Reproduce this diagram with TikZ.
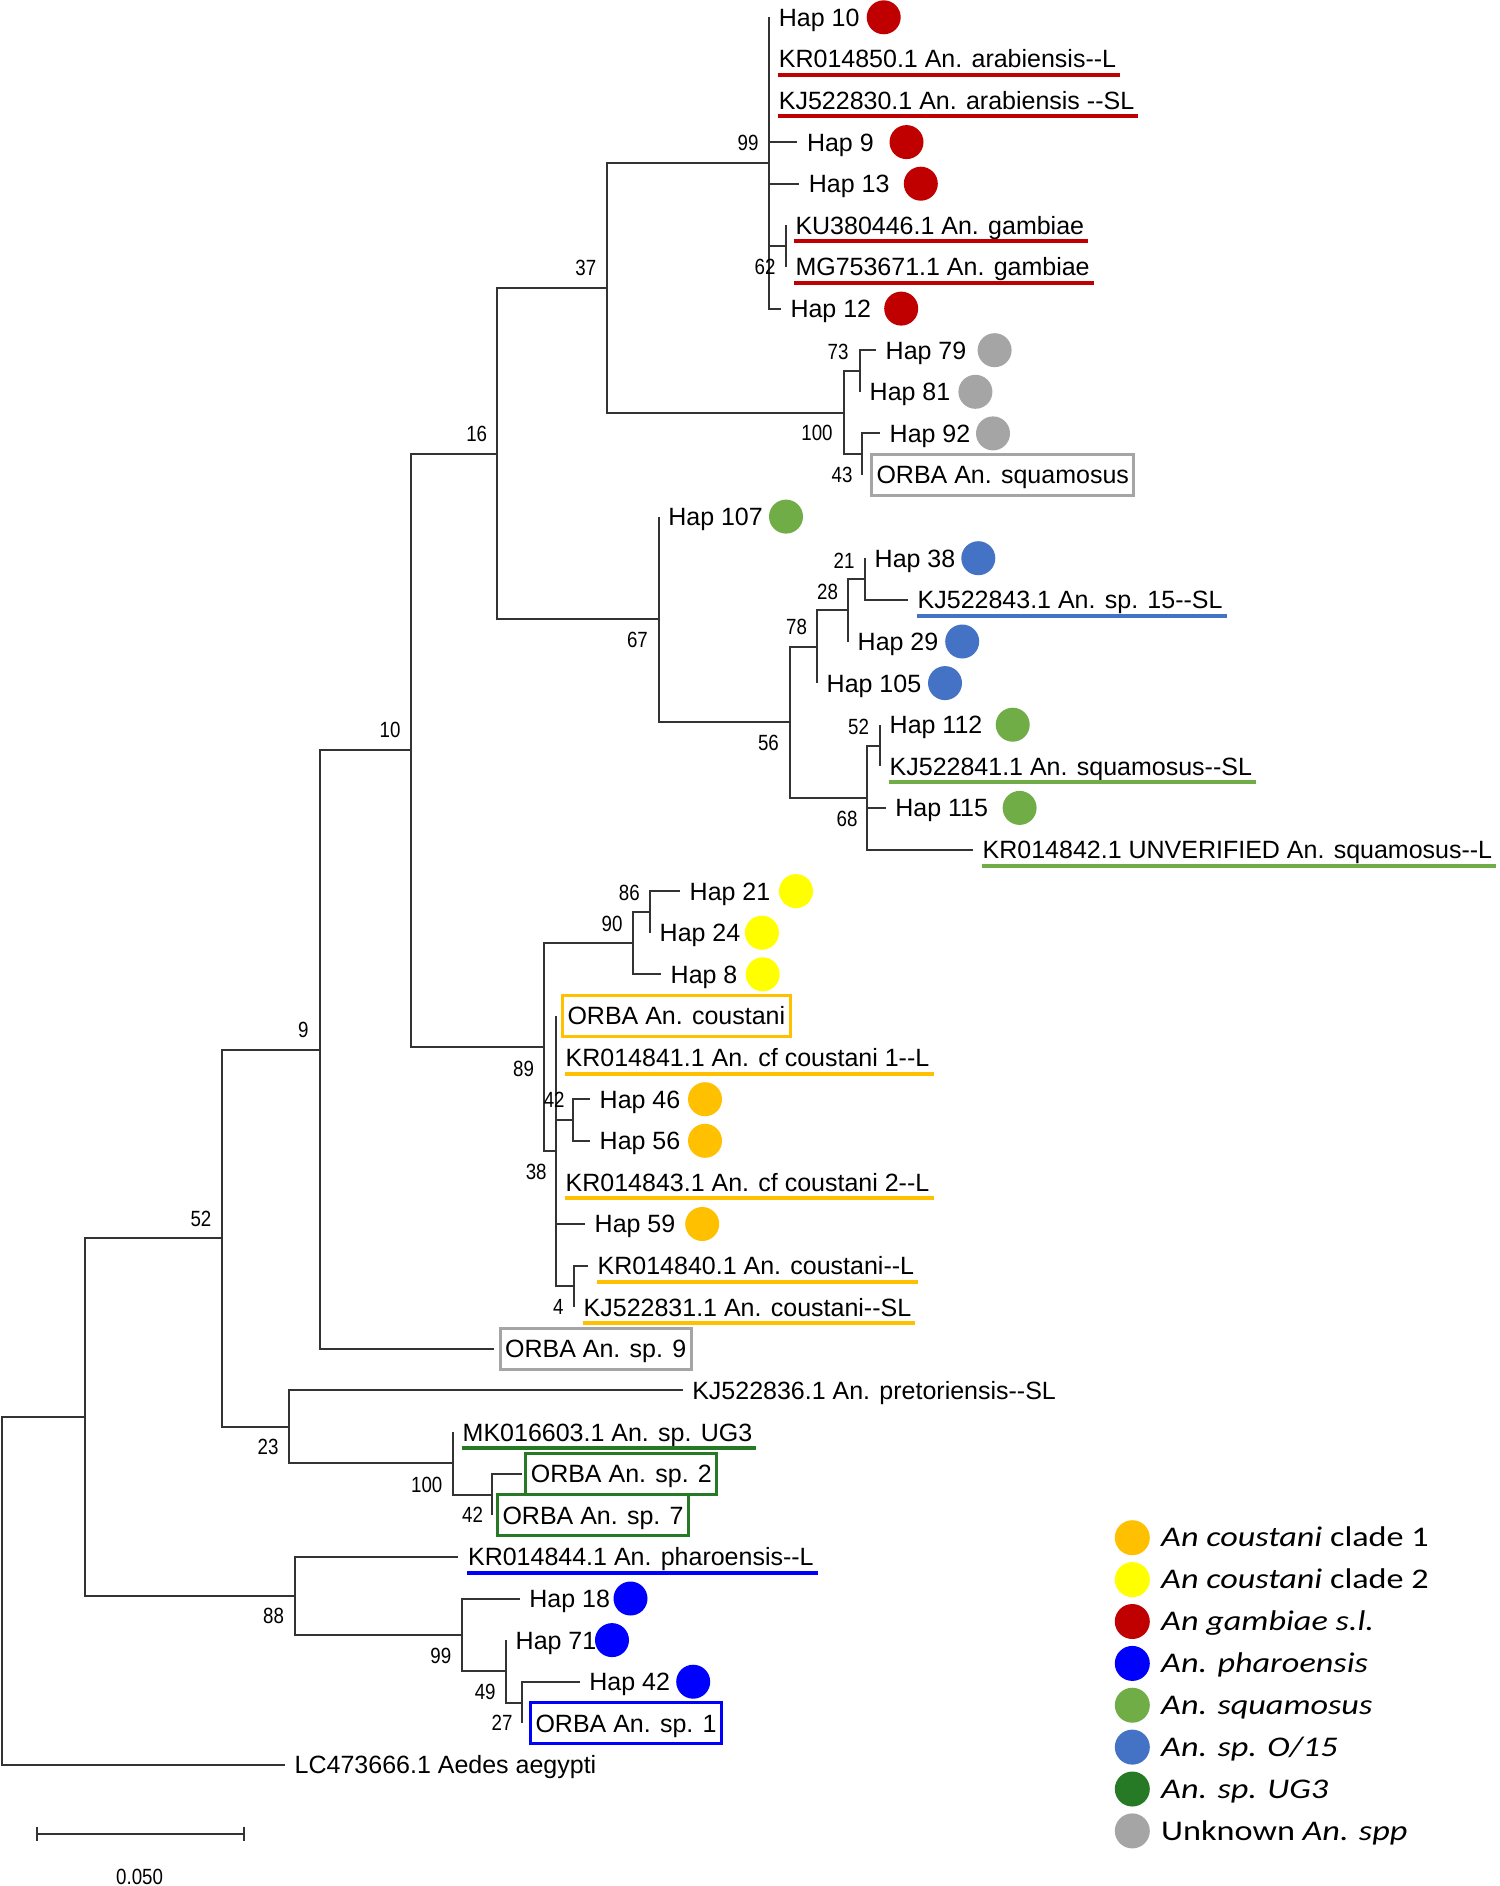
\documentclass[tikz,border=0pt]{standalone}
\usepackage{fontspec}
\setmainfont{Liberation Sans}
\newfontfamily\lblfamily[FakeStretch=0.85]{Liberation Sans}
\newfontfamily\legfamily[FakeStretch=1.2]{Carlito}
\usetikzlibrary{calc}
\definecolor{cred}{HTML}{C00000}
\definecolor{cgray}{HTML}{A5A5A5}
\definecolor{cgreen}{HTML}{70AD47}
\definecolor{cbluetwo}{HTML}{4472C4}
\definecolor{cblue}{HTML}{0000FF}
\definecolor{corange}{HTML}{FFC000}
\definecolor{cyellow}{HTML}{FFFF00}
\definecolor{cdkgreen}{HTML}{267A26}
\newcommand\myleaffont{\fontsize{25pt}{30pt}\selectfont}
\newcommand\mybsfont{\lblfamily\fontsize{22pt}{26pt}\selectfont}
\newcommand\mylegfont{\legfamily\fontsize{28.5pt}{34pt}\selectfont}
\newcommand\mydbh{-{}-}
\begin{document}
\begin{tikzpicture}[x=1pt,y=-1pt,
  br/.style={line width=2pt, draw=black!80},
  leaf/.style={anchor=west, inner sep=0pt, font=\myleaffont, text height=17.9pt, text depth=0pt},
  boxed/.style={anchor=west, font=\myleaffont, inner xsep=5pt, inner ysep=0pt, text height=17.9pt, text depth=0pt, minimum height=41pt, line width=3pt, draw=#1},
  bs/.style={inner sep=0pt, font=\mybsfont, text height=15.8pt, text depth=0pt},
  dot/.style={circle, inner sep=0pt, minimum size=34pt, fill=#1},
  ul/.style={line width=4pt, draw=#1},
  legdot/.style={circle, inner sep=0pt, minimum size=35pt, fill=#1},
  legtext/.style={anchor=west, inner sep=0pt, font=\mylegfont, text height=18.4pt, text depth=0pt}
]
\fill[white] (0,0) rectangle (1499,1886);
\path[use as bounding box] (0,0) rectangle (1499,1886);

% internal nodes
\coordinate (R0) at (2.4,1591);
\coordinate (A) at (85,1417.1);
\coordinate (B) at (221.7,1238.3);
\coordinate (C) at (294.5,1595.9);
\coordinate (D) at (319.5,1049.6);
\coordinate (E) at (289,1426.9);
\coordinate (F) at (410.7,750.4);
\coordinate (G) at (497.3,453.5);
\coordinate (H) at (544,1047.2);
\coordinate (I) at (607,287.8);
\coordinate (J) at (658.6,619.3);
\coordinate (K) at (769.2,163);
\coordinate (L) at (844,412.6);
\coordinate (M) at (785.8,246.2);
\coordinate (N) at (860,371);
\coordinate (O) at (862,454.2);
\coordinate (P) at (789.5,722);
\coordinate (Q) at (817,646.6);
\coordinate (R) at (867,798);
\coordinate (S) at (848,610);
\coordinate (T) at (865,579);
\coordinate (U) at (880,745.5);
\coordinate (W) at (633,943.1);
\coordinate (X) at (556,1151.2);
\coordinate (Y) at (650,911.9);
\coordinate (Z) at (574,1286.4);
\coordinate (AA) at (573,1120);
\coordinate (AB) at (453,1463.3);
\coordinate (AC) at (492,1494.5);
\coordinate (AD) at (462,1634.9);
\coordinate (AE) at (506,1671.3);
\coordinate (AF) at (522,1702.5);

% leaf tips
\coordinate (l0) at (769.2,17.3);
\coordinate (l1) at (769.2,58.9);
\coordinate (l2) at (769.2,100.5);
\coordinate (l3) at (797.3,142.1);
\coordinate (l4) at (799.2,183.7);
\coordinate (l5) at (785.8,225.4);
\coordinate (l6) at (785.8,267.0);
\coordinate (l7) at (780.8,308.6);
\coordinate (l8) at (876,350.2);
\coordinate (l9) at (860,391.8);
\coordinate (l10) at (880,433.4);
\coordinate (l11) at (862,475.0);
\coordinate (l12) at (658.6,516.6);
\coordinate (l13) at (865,558.2);
\coordinate (l14) at (908,599.9);
\coordinate (l15) at (848,641.5);
\coordinate (l16) at (817,683.1);
\coordinate (l17) at (880,724.7);
\coordinate (l18) at (880,766.3);
\coordinate (l19) at (885.6,807.9);
\coordinate (l20) at (973,849.5);
\coordinate (l21) at (680,891.1);
\coordinate (l22) at (650,932.7);
\coordinate (l23) at (661,974.3);
\coordinate (l24) at (556,1016.0);
\coordinate (l25) at (556,1057.6);
\coordinate (l26) at (590,1099.2);
\coordinate (l27) at (590,1140.8);
\coordinate (l28) at (556,1182.4);
\coordinate (l29) at (585,1224.0);
\coordinate (l30) at (588,1265.6);
\coordinate (l31) at (574,1307.2);
\coordinate (l32) at (493.6,1348.8);
\coordinate (l33) at (682.6,1390.4);
\coordinate (l34) at (453,1432.1);
\coordinate (l35) at (522,1473.7);
\coordinate (l36) at (492,1515.3);
\coordinate (l37) at (458.4,1556.9);
\coordinate (l38) at (519.7,1598.5);
\coordinate (l39) at (506,1640.1);
\coordinate (l40) at (579.7,1681.7);
\coordinate (l41) at (522,1723.3);
\coordinate (l42) at (285,1764.9);

% branches
\draw[br] (R0) |- (A);  \draw[br] (R0) |- (l42);
\draw[br] (A) |- (B);   \draw[br] (A) |- (C);
\draw[br] (B) |- (D);   \draw[br] (B) |- (E);
\draw[br] (D) |- (F);   \draw[br] (D) |- (l32);
\draw[br] (F) |- (G);   \draw[br] (F) |- (H);
\draw[br] (G) |- (I);   \draw[br] (G) |- (J);
\draw[br] (I) |- (K);   \draw[br] (I) |- (L);
\draw[br] (K) |- (l0);  \draw[br] (K) |- (l1); \draw[br] (K) |- (l2);
\draw[br] (K) |- (l3);  \draw[br] (K) |- (l4); \draw[br] (K) |- (M);
\draw[br] (K) |- (l7);
\draw[br] (M) |- (l5);  \draw[br] (M) |- (l6);
\draw[br] (L) |- (N);   \draw[br] (L) |- (O);
\draw[br] (N) |- (l8);  \draw[br] (N) |- (l9);
\draw[br] (O) |- (l10); \draw[br] (O) |- (l11);
\draw[br] (J) |- (l12); \draw[br] (J) |- (P);
\draw[br] (P) |- (Q);   \draw[br] (P) |- (R);
\draw[br] (Q) |- (S);   \draw[br] (Q) |- (l16);
\draw[br] (S) |- (T);   \draw[br] (S) |- (l15);
\draw[br] (T) |- (l13); \draw[br] (T) |- (l14);
\draw[br] (R) |- (U);   \draw[br] (R) |- (l19); \draw[br] (R) |- (l20);
\draw[br] (U) |- (l17); \draw[br] (U) |- (l18);
\draw[br] (H) |- (W);   \draw[br] (H) |- (X);
\draw[br] (W) |- (Y);   \draw[br] (W) |- (l23);
\draw[br] (Y) |- (l21); \draw[br] (Y) |- (l22);
\draw[br] (X) |- (l24); \draw[br] (X) |- (l25); \draw[br] (X) |- (AA);
\draw[br] (X) |- (l28); \draw[br] (X) |- (l29); \draw[br] (X) |- (Z);
\draw[br] (AA) |- (l26); \draw[br] (AA) |- (l27);
\draw[br] (Z) |- (l30); \draw[br] (Z) |- (l31);
\draw[br] (E) |- (l33); \draw[br] (E) |- (AB);
\draw[br] (AB) |- (l34); \draw[br] (AB) |- (AC);
\draw[br] (AC) |- (l35); \draw[br] (AC) |- (l36);
\draw[br] (C) |- (l37); \draw[br] (C) |- (AD);
\draw[br] (AD) |- (l38); \draw[br] (AD) |- (AE);
\draw[br] (AE) |- (l39); \draw[br] (AE) |- (AF);
\draw[br] (AF) |- (l40); \draw[br] (AF) |- (l41);

% leaf labels
\node[leaf] (t0) at ([xshift=9.5pt]l0) {Hap 10};
\node[leaf] (t1) at ([xshift=9.5pt]l1) {KR014850.1 An. arabiensis\mydbh L};
\node[leaf] (t2) at ([xshift=9.5pt]l2) {KJ522830.1 An. arabiensis \mydbh SL};
\node[leaf] (t3) at ([xshift=9.5pt]l3) {Hap 9};
\node[leaf] (t4) at ([xshift=9.5pt]l4) {Hap 13};
\node[leaf] (t5) at ([xshift=9.5pt]l5) {KU380446.1 An. gambiae};
\node[leaf] (t6) at ([xshift=9.5pt]l6) {MG753671.1 An. gambiae};
\node[leaf] (t7) at ([xshift=9.5pt]l7) {Hap 12};
\node[leaf] (t8) at ([xshift=9.5pt]l8) {Hap 79};
\node[leaf] (t9) at ([xshift=9.5pt]l9) {Hap 81};
\node[leaf] (t10) at ([xshift=9.5pt]l10) {Hap 92};
\node[boxed=cgray] (t11) at (870,475.0) {ORBA An. squamosus};
\node[leaf] (t12) at ([xshift=9.5pt]l12) {Hap 107};
\node[leaf] (t13) at ([xshift=9.5pt]l13) {Hap 38};
\node[leaf] (t14) at ([xshift=9.5pt]l14) {KJ522843.1 An. sp. 15\mydbh SL};
\node[leaf] (t15) at ([xshift=9.5pt]l15) {Hap 29};
\node[leaf] (t16) at ([xshift=9.5pt]l16) {Hap 105};
\node[leaf] (t17) at ([xshift=9.5pt]l17) {Hap 112};
\node[leaf] (t18) at ([xshift=9.5pt]l18) {KJ522841.1 An. squamosus\mydbh SL};
\node[leaf] (t19) at ([xshift=9.5pt]l19) {Hap 115};
\node[leaf] (t20) at ([xshift=9.5pt]l20) {KR014842.1 UNVERIFIED An. squamosus\mydbh L};
\node[leaf] (t21) at ([xshift=9.5pt]l21) {Hap 21};
\node[leaf] (t22) at ([xshift=9.5pt]l22) {Hap 24};
\node[leaf] (t23) at ([xshift=9.5pt]l23) {Hap 8};
\node[boxed=corange] (t24) at (561,1016.0) {ORBA An. coustani};
\node[leaf] (t25) at ([xshift=9.5pt]l25) {KR014841.1 An. cf coustani 1\mydbh L};
\node[leaf] (t26) at ([xshift=9.5pt]l26) {Hap 46};
\node[leaf] (t27) at ([xshift=9.5pt]l27) {Hap 56};
\node[leaf] (t28) at ([xshift=9.5pt]l28) {KR014843.1 An. cf coustani 2\mydbh L};
\node[leaf] (t29) at ([xshift=9.5pt]l29) {Hap 59};
\node[leaf] (t30) at ([xshift=9.5pt]l30) {KR014840.1 An. coustani\mydbh L};
\node[leaf] (t31) at ([xshift=9.5pt]l31) {KJ522831.1 An. coustani\mydbh SL};
\node[boxed=cgray] (t32) at (498.6,1348.8) {ORBA An. sp. 9};
\node[leaf] (t33) at ([xshift=9.5pt]l33) {KJ522836.1 An. pretoriensis\mydbh SL};
\node[leaf] (t34) at ([xshift=9.5pt]l34) {MK016603.1 An. sp. UG3};
\node[boxed=cdkgreen] (t35) at (524.3,1473.7) {ORBA An. sp. 2};
\node[boxed=cdkgreen] (t36) at (496,1515.3) {ORBA An. sp. 7};
\node[leaf] (t37) at ([xshift=9.5pt]l37) {KR014844.1 An. pharoensis\mydbh L};
\node[leaf] (t38) at ([xshift=9.5pt]l38) {Hap 18};
\node[leaf] (t39) at ([xshift=9.5pt]l39) {Hap 71};
\node[leaf] (t40) at ([xshift=9.5pt]l40) {Hap 42};
\node[boxed=cblue] (t41) at (529,1723.3) {ORBA An. sp. 1};
\node[leaf] (t42) at ([xshift=9.5pt]l42) {LC473666.1 Aedes aegypti};

% underlines
\foreach \t/\c in {t1/cred,t2/cred,t5/cred,t6/cred,t14/cbluetwo,t18/cgreen,t20/cgreen,t25/corange,t28/corange,t30/corange,t31/corange,t34/cdkgreen,t37/cblue}{
  \draw[ul=\c] ([xshift=-1pt,yshift=-16pt]\t.west) -- ([xshift=4pt,yshift=-16pt]\t.east);
}

% dots
\node[dot=cred] (d0) at (883.7,17.3) {};
\node[dot=cred] (d3) at (906.5,142.1) {};
\node[dot=cred] (d4) at (920.8,183.7) {};
\node[dot=cred] (d7) at (901.2,308.6) {};
\node[dot=cgray] (d8) at (994.6,350.2) {};
\node[dot=cgray] (d9) at (975.4,391.8) {};
\node[dot=cgray] (d10) at (993,433.4) {};
\node[dot=cgreen] (d12) at (786,516.6) {};
\node[dot=cbluetwo] (d13) at (978.3,558.2) {};
\node[dot=cbluetwo] (d15) at (962.2,641.5) {};
\node[dot=cbluetwo] (d16) at (945,683.1) {};
\node[dot=cgreen] (d17) at (1012.7,724.7) {};
\node[dot=cgreen] (d19) at (1019.6,807.9) {};
\node[dot=cyellow] (d21) at (796,891.1) {};
\node[dot=cyellow] (d22) at (761.9,932.7) {};
\node[dot=cyellow] (d23) at (762.7,974.3) {};
\node[dot=corange] (d26) at (705,1099.2) {};
\node[dot=corange] (d27) at (705,1140.8) {};
\node[dot=corange] (d29) at (702.2,1224.0) {};
\node[dot=cblue] (d38) at (630.5,1598.5) {};
\node[dot=cblue] (d39) at (612,1640.1) {};
\node[dot=cblue] (d40) at (693.2,1681.7) {};

% bootstrap values
\node[bs] (b1) at (201,1218.3) {52};
\node[bs] (b2) at (303.3,1030) {9};
\node[bs] (b3) at (390,729.3) {10};
\node[bs] (b4) at (476.7,433.3) {16};
\node[bs] (b5) at (585.8,267.7) {37};
\node[bs] (b6) at (637.4,639.3) {67};
\node[bs] (b7) at (748,143) {99};
\node[bs] (b8) at (765,267) {62};
\node[bs] (b9) at (838,352) {73};
\node[bs] (b10) at (817,433) {100};
\node[bs] (b11) at (842,475) {43};
\node[bs] (b12) at (844,560.7) {21};
\node[bs] (b13) at (827.6,591.7) {28};
\node[bs] (b14) at (796.5,626.7) {78};
\node[bs] (b15) at (768.4,742.3) {56};
\node[bs] (b16) at (858.6,726.7) {52};
\node[bs] (b17) at (847,818.3) {68};
\node[bs] (b18) at (629.3,892.7) {86};
\node[bs] (b19) at (612,923.3) {90};
\node[bs] (b20) at (523.6,1068.3) {89};
\node[bs] (b21) at (554.2,1100) {42};
\node[bs] (b22) at (536.2,1171.7) {38};
\node[bs] (b23) at (558.4,1306.7) {4};
\node[bs] (b24) at (268,1447) {23};
\node[bs] (b25) at (426.7,1484.3) {100};
\node[bs] (b26) at (472.5,1515) {42};
\node[bs] (b27) at (273.6,1615.5) {88};
\node[bs] (b28) at (440.8,1655.5) {99};
\node[bs] (b29) at (485.2,1691.7) {49};
\node[bs] (b30) at (502,1723) {27};

% scale bar
\coordinate (sb1) at (36.7,1833.5);
\coordinate (sb2) at (244,1833.5);
\draw[br] (sb1) -- (sb2);
\draw[br] ([yshift=7pt]sb1) -- ([yshift=-7pt]sb1);
\draw[br] ([yshift=7pt]sb2) -- ([yshift=-7pt]sb2);
\node[bs] (sbl) at (139.6,1877) {0.050};

% legend
\node[legdot=corange] (c1) at (1132.3,1537.7) {};
\node[legdot=cyellow] (c2) at (1132.3,1579.6) {};
\node[legdot=cred] (c3) at (1132.3,1621.5) {};
\node[legdot=cblue] (c4) at (1132.3,1663.4) {};
\node[legdot=cgreen] (c5) at (1132.3,1705.2) {};
\node[legdot=cbluetwo] (c6) at (1132.3,1747.1) {};
\node[legdot=cdkgreen] (c7) at (1132.3,1789.0) {};
\node[legdot=cgray] (c8) at (1132.3,1830.9) {};
\node[legtext] (g1) at (1161,1537.7) {\textit{An coustani} clade 1};
\node[legtext] (g2) at (1161,1579.6) {\textit{An coustani} clade 2};
\node[legtext] (g3) at (1161,1621.5) {\textit{An gambiae s.l.}};
\node[legtext] (g4) at (1161,1663.4) {\textit{An. pharoensis}};
\node[legtext] (g5) at (1161,1705.2) {\textit{An. squamosus}};
\node[legtext] (g6) at (1161,1747.1) {\textit{An. sp. O/15}};
\node[legtext] (g7) at (1161,1789.0) {\textit{An. sp. UG3}};
\node[legtext] (g8) at (1161,1830.9) {Unknown \textit{An. spp}};
\end{tikzpicture}
\end{document}
